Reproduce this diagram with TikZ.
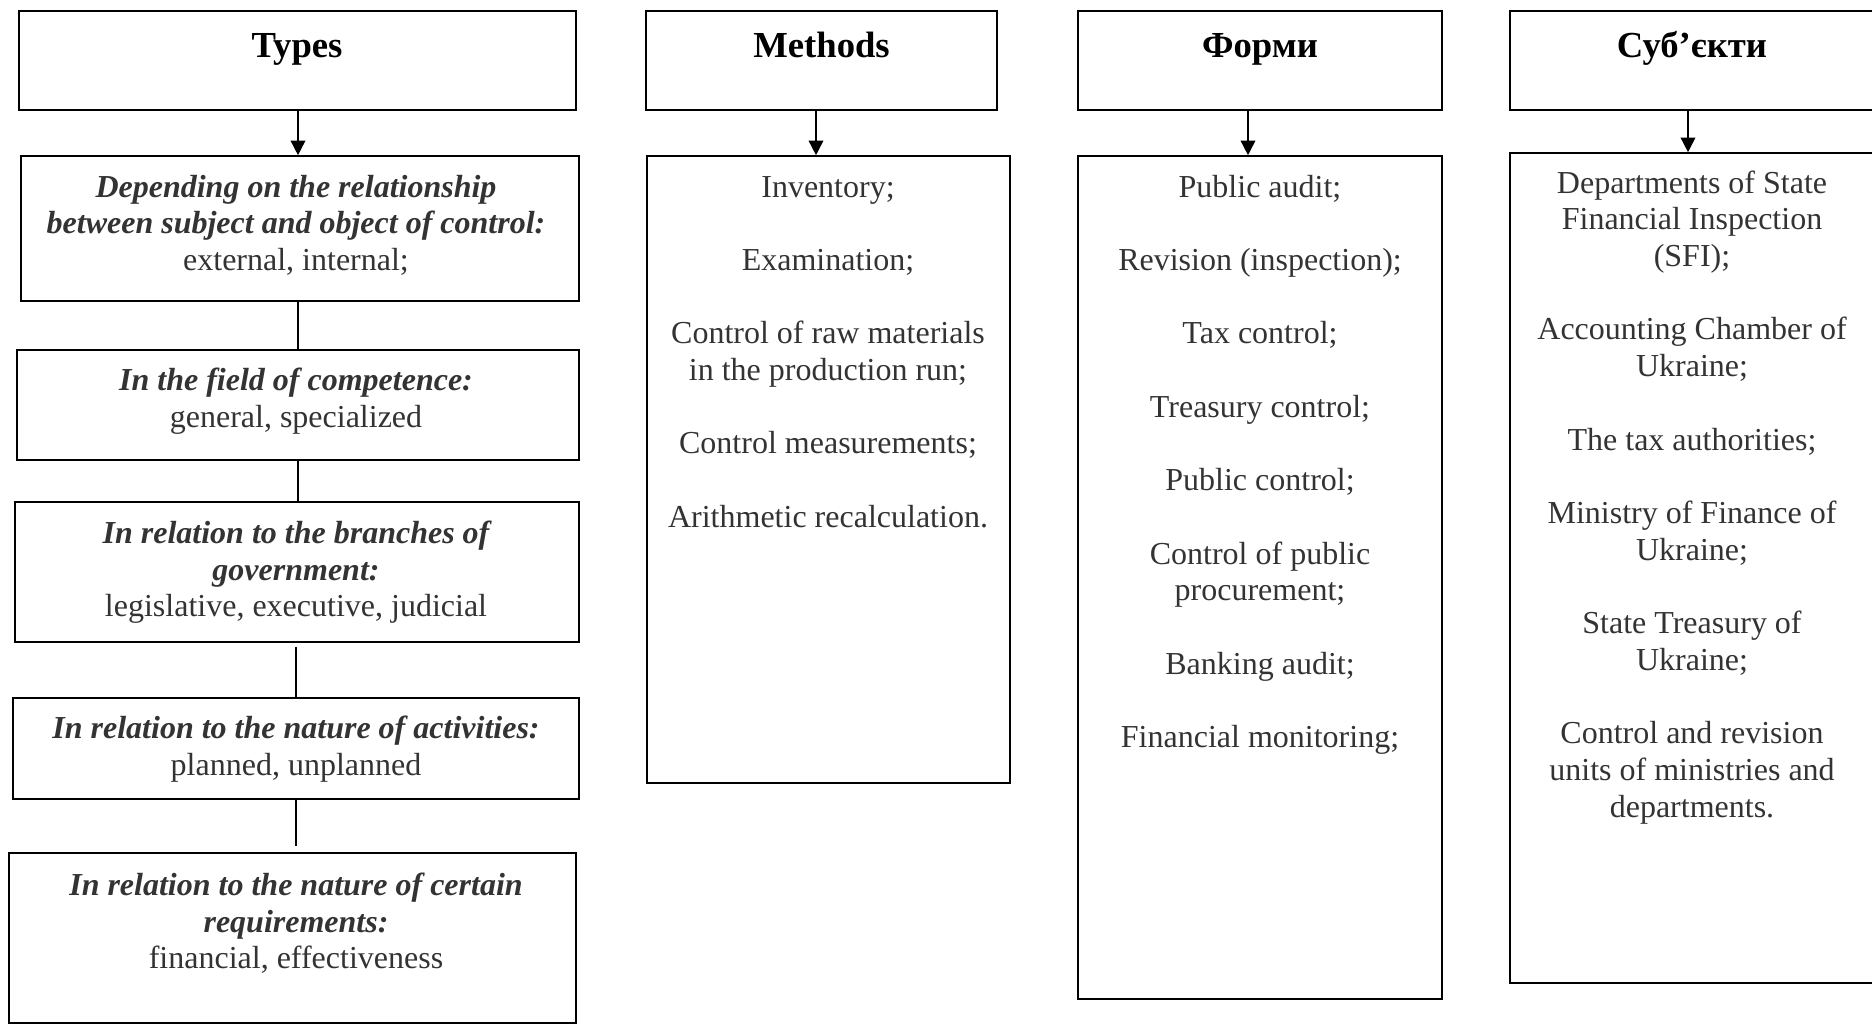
\documentclass[tikz,border=0pt]{standalone}
\usepackage{fontspec}
\setmainfont{Liberation Serif}
\usetikzlibrary{arrows.meta,fit}
\definecolor{txtgray}{HTML}{333333}
\begin{document}
\begin{tikzpicture}[x=0.75pt,y=-0.75pt,
  titlebox/.style={draw=black, line width=1.5pt, inner sep=0pt},
  listbox/.style={draw=black, line width=1.2pt, inner sep=0pt},
  ttl/.style={font=\fontsize{27.5}{33}\selectfont\bfseries, anchor=base, inner sep=0pt, text=black},
  itm/.style={font=\fontsize{24}{27.5}\selectfont, anchor=base, inner sep=0pt, text=txtgray},
  hdr/.style={itm, font=\fontsize{24}{27.5}\selectfont\bfseries\itshape},
  arr/.style={line width=1.2pt, -{Triangle[width=11pt,length=11pt]}},
  lnk/.style={line width=1.2pt}
]
\clip (0,0) rectangle (1872,1025);

% ---------- column 1: Types ----------
\node[titlebox, fit={(19,11)(576,110)}] (types) {};
\node[listbox, fit={(21,156)(579,301)}] (t1) {};
\node[listbox, fit={(17,350)(579,460)}] (t2) {};
\node[listbox, fit={(15,502)(579,642)}] (t3) {};
\node[listbox, fit={(13,698)(579,799)}] (t4) {};
\node[listbox, fit={(9,853)(576,1023)}] (t5) {};
\coordinate (c1) at (298,0);
\coordinate (c1b) at (296,0);
\draw[arr] (types.south -| c1) -- (t1.north -| c1);
\draw[lnk] (t1.south -| c1) -- (t2.north -| c1);
\draw[lnk] (t2.south -| c1) -- (t3.north -| c1);
\draw[lnk, shorten <=3pt] (t3.south -| c1b) -- (t4.north -| c1b);
\draw[lnk, shorten >=5pt] (t4.south -| c1b) -- (t5.north -| c1b);

\node[ttl] (typesT) at (297,57) {Types};
\node[hdr] (t1a) at (296,197) {Depending on the relationship};
\node[hdr] (t1b) at (296,233.7) {between subject and object of control:};
\node[itm] (t1c) at (296,270.4) {external, internal;};
\node[hdr] (t2a) at (296,390) {In the field of competence:};
\node[itm] (t2b) at (296,427) {general, specialized};
\node[hdr] (t3a) at (296,543) {In relation to the branches of};
\node[hdr] (t3b) at (296,580) {government:};
\node[itm] (t3c) at (296,616) {legislative, executive, judicial};
\node[hdr] (t4a) at (296,738) {In relation to the nature of activities:};
\node[itm] (t4b) at (296,775) {planned, unplanned};
\node[hdr] (t5a) at (296,895) {In relation to the nature of certain};
\node[hdr] (t5b) at (296,932) {requirements:};
\node[itm] (t5c) at (296,968) {financial, effectiveness};

% ---------- column 2: Methods ----------
\node[titlebox, fit={(646,11)(997,110)}] (methods) {};
\node[listbox, fit={(647,156)(1010,783)}] (mlist) {};
\coordinate (c2) at (816,0);
\draw[arr] (methods.south -| c2) -- (mlist.north -| c2);
\node[ttl] (methodsT) at (821.5,57) {Methods};
\node[itm] (m1) at (828,197) {Inventory;};
\node[itm] (m2) at (828,270.4) {Examination;};
\node[itm] (m3a) at (828,343.8) {Control of raw materials};
\node[itm] (m3b) at (828,380.5) {in the production run;};
\node[itm] (m4) at (828,453.9) {Control measurements;};
\node[itm] (m5) at (828,527.3) {Arithmetic recalculation.};

% ---------- column 3: Форми ----------
\node[titlebox, fit={(1078,11)(1442,110)}] (forms) {};
\node[listbox, fit={(1078,156)(1442,999)}] (flist) {};
\coordinate (c3) at (1248,0);
\draw[arr] (forms.south -| c3) -- (flist.north -| c3);
\node[ttl] (formsT) at (1260,57) {Форми};
\node[itm] (f1) at (1260,197) {Public audit;};
\node[itm] (f2) at (1260,270.4) {Revision (inspection);};
\node[itm] (f3) at (1260,343.8) {Tax control;};
\node[itm] (f4) at (1260,417.2) {Treasury control;};
\node[itm] (f5) at (1260,490.6) {Public control;};
\node[itm] (f6a) at (1260,564) {Control of public};
\node[itm] (f6b) at (1260,600.7) {procurement;};
\node[itm] (f7) at (1260,674) {Banking audit;};
\node[itm] (f8) at (1260,747.5) {Financial monitoring;};

% ---------- column 4: Суб’єкти ----------
\node[titlebox, fit={(1510,11)(1880,110)}] (subj) {};
\node[listbox, fit={(1510,153)(1880,983)}] (slist) {};
\coordinate (c4) at (1688,0);
\draw[arr] (subj.south -| c4) -- (slist.north -| c4);
\node[ttl] (subjT) at (1692,57) {Суб’єкти};
\node[itm] (s1a) at (1692,193) {Departments of State};
\node[itm] (s1b) at (1692,229.7) {Financial Inspection};
\node[itm] (s1c) at (1692,266.4) {(SFI);};
\node[itm] (s2a) at (1692,339.8) {Accounting Chamber of};
\node[itm] (s2b) at (1692,376.5) {Ukraine;};
\node[itm] (s3) at (1692,450) {The tax authorities;};
\node[itm] (s4a) at (1692,523.3) {Ministry of Finance of};
\node[itm] (s4b) at (1692,560) {Ukraine;};
\node[itm] (s5a) at (1692,633.4) {State Treasury of};
\node[itm] (s5b) at (1692,670) {Ukraine;};
\node[itm] (s6a) at (1692,743.5) {Control and revision};
\node[itm] (s6b) at (1692,780) {units of ministries and};
\node[itm] (s6c) at (1692,817) {departments.};
\end{tikzpicture}
\end{document}
